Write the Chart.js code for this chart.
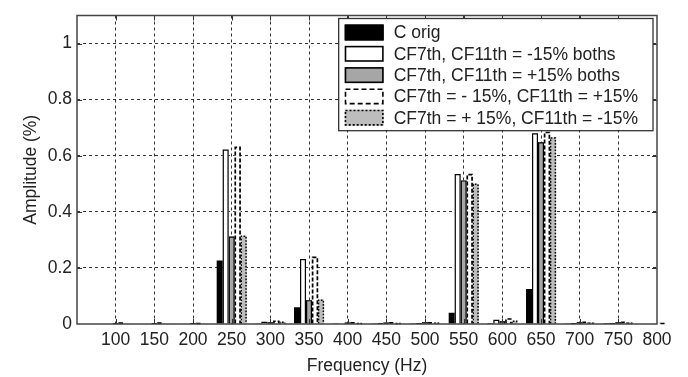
<!DOCTYPE html>
<html>
<head>
<meta charset="utf-8">
<script src="https://cdn.jsdelivr.net/npm/chart.js@4/dist/chart.umd.min.js"></script>
<style>
  html, body { margin: 0; padding: 0; background: #fff; }
  #wrap { width: 688px; height: 377px; position: relative; }
</style>
</head>
<body>
<div id="wrap"><canvas id="c" width="688" height="377"></canvas></div>
<script>
// ---- data ----
const freqs = [100, 150, 200, 250, 300, 350, 400, 450, 500, 550, 600, 650, 700, 750, 800];
const seriesLabels = [
  'C orig',
  'CF7th, CF11th = -15% boths',
  'CF7th, CF11th = +15% boths',
  'CF7th = - 15%, CF11th = +15%',
  'CF7th = + 15%, CF11th = -15%'
];
const cOrig     = [0.002, 0.002, 0.002, 0.226, 0.003, 0.060, 0.003, 0.003, 0.003, 0.040, 0.004, 0.125, 0.003, 0.004, 0.002];
const bothMinus = [0.003, 0.003, 0.003, 0.622, 0.008, 0.232, 0.003, 0.004, 0.004, 0.535, 0.015, 0.680, 0.004, 0.004, 0.003];
const bothPlus  = [0.004, 0.004, 0.004, 0.312, 0.006, 0.085, 0.005, 0.005, 0.006, 0.512, 0.010, 0.648, 0.006, 0.006, 0.003];
const m7p11     = [0.005, 0.005, 0.004, 0.632, 0.012, 0.240, 0.006, 0.006, 0.006, 0.535, 0.020, 0.685, 0.008, 0.008, 0.004];
const p7m11     = [0.003, 0.003, 0.003, 0.315, 0.008, 0.087, 0.004, 0.004, 0.005, 0.500, 0.012, 0.665, 0.005, 0.005, 0.003];
const yTickValues = [0, 0.2, 0.4, 0.6, 0.8, 1];
const xTitle = 'Frequency (Hz)';
const yTitle = 'Amplitude (%)';

const FONT = 'Liberation Sans, Arial, Helvetica, sans-serif';
const TXT = '#222';

const toPts = arr => freqs.map((f, i) => ({ x: f, y: arr[i] }));

const styles = [
  { backgroundColor: '#000000', dash: null, lw: 0 },
  { backgroundColor: '#ffffff', dash: [], lw: 1.2 },
  { backgroundColor: '#a6a6a6', dash: [], lw: 1.2 },
  { backgroundColor: '#ffffff', dash: [4, 2], lw: 1.7 },
  { backgroundColor: '#bdbdbd', dash: [1.6, 1.6], lw: 1.5 }
];
const seriesData = [cOrig, bothMinus, bothPlus, m7p11, p7m11];

const datasets = seriesData.map((arr, i) => ({
  label: seriesLabels[i],
  data: toPts(arr),
  backgroundColor: styles[i].backgroundColor,
  borderColor: '#000',
  borderWidth: 0,
  categoryPercentage: 0.775,
  barPercentage: 1.0,
  dashStyle: styles[i].dash,
  outlineWidth: styles[i].lw
}));

// outline bars (solid / dashed / dotted) using the element geometry from Chart.js
const barOutline = {
  id: 'barOutline',
  afterDatasetDraw(chart, args) {
    const ds = chart.data.datasets[args.index];
    if (!ds.dashStyle) return;
    const ctx = chart.ctx;
    ctx.save();
    ctx.strokeStyle = '#000';
    ctx.lineWidth = ds.outlineWidth;
    ctx.setLineDash(ds.dashStyle);
    args.meta.data.forEach(el => {
      const p = el.getProps(['x', 'y', 'base', 'width'], true);
      const l = p.x - p.width / 2, r = p.x + p.width / 2;
      const top = Math.min(p.y, p.base), bot = Math.max(p.y, p.base);
      if (bot - top < 0.5) return;
      ctx.beginPath();
      ctx.moveTo(l + 0.6, bot);
      ctx.lineTo(l + 0.6, top + 0.6);
      ctx.lineTo(r - 0.6, top + 0.6);
      ctx.lineTo(r - 0.6, bot);
      ctx.stroke();
    });
    ctx.restore();
  }
};

// box, inward ticks and legend (MATLAB style)
const frame = {
  id: 'frame',
  afterDatasetsDraw(chart) {
    const { ctx, chartArea: a, scales: { x, y } } = chart;
    ctx.save();
    ctx.setLineDash([]);
    ctx.strokeStyle = '#333';
    ctx.lineWidth = 1;
    const tl = 5;
    x.ticks.forEach(t => {
      const px = Math.round(x.getPixelForValue(t.value)) + 0.5;
      if (px <= a.left + 1 || px >= a.right - 1) return;
      ctx.beginPath();
      ctx.moveTo(px, a.bottom); ctx.lineTo(px, a.bottom - tl);
      ctx.moveTo(px, a.top); ctx.lineTo(px, a.top + tl);
      ctx.stroke();
    });
    y.ticks.forEach(t => {
      const py = Math.round(y.getPixelForValue(t.value)) + 0.5;
      if (py >= a.bottom - 1 || py <= a.top + 1) return;
      ctx.beginPath();
      ctx.moveTo(a.left, py); ctx.lineTo(a.left + tl, py);
      ctx.moveTo(a.right, py); ctx.lineTo(a.right - tl, py);
      ctx.stroke();
    });

    // legend
    const fs = 17.5;
    ctx.font = fs + 'px ' + FONT;
    const dsets = chart.data.datasets;
    let maxW = 0;
    dsets.forEach(d => { maxW = Math.max(maxW, ctx.measureText(d.label).width); });
    const rowH = 21.3;
    const lw = 55 + maxW + 15;
    const lh = 14 + rowH * (dsets.length - 1) + 13;
    const lr = a.right - 4;
    const lt = a.top + 3;
    const ll = lr - lw;
    ctx.fillStyle = '#fff';
    ctx.fillRect(ll, lt, lw, lh);
    ctx.strokeStyle = '#333';
    ctx.lineWidth = 1.3;
    ctx.strokeRect(ll, lt, lw, lh);
    ctx.textBaseline = 'middle';
    ctx.textAlign = 'left';
    dsets.forEach((d, i) => {
      const cy = lt + 14 + i * rowH;
      const sx = ll + 6, sw = 39, sh = 16;
      ctx.fillStyle = d.backgroundColor;
      ctx.fillRect(sx, cy - sh / 2, sw, sh);
      ctx.save();
      ctx.strokeStyle = '#000';
      ctx.lineWidth = 1.6;
      let dash = d.dashStyle || [];
      if (i === 3) dash = [5, 3];
      if (i === 4) dash = [2, 2];
      ctx.setLineDash(dash);
      ctx.strokeRect(sx + 0.8, cy - sh / 2 + 0.8, sw - 1.6, sh - 1.6);
      ctx.restore();
      ctx.fillStyle = TXT;
      ctx.fillText(d.label, ll + 55, cy + 1);
    });

    // box
    ctx.strokeStyle = '#444';
    ctx.lineWidth = 1.5;
    ctx.strokeRect(a.left, a.top, a.right - a.left, a.bottom - a.top);
    ctx.restore();
  }
};

new Chart(document.getElementById('c'), {
  type: 'bar',
  data: { datasets },
  options: {
    responsive: false,
    animation: false,
    layout: { padding: { left: 0, right: 31, top: 7, bottom: 0 } },
    plugins: { legend: { display: false }, tooltip: { enabled: false } },
    scales: {
      x: {
        type: 'linear',
        min: 50, max: 800,
        offset: false,
        grid: {
          offset: false,
          drawTicks: false,
          color: c => (c.tick && (c.tick.value === 50 || c.tick.value === 800)) ? 'rgba(0,0,0,0)' : '#333',
          lineWidth: 1
        },
        border: { display: false, dash: [3, 3] },
        ticks: {
          stepSize: 50,
          autoSkip: false,
          maxRotation: 0,
          padding: 6,
          color: TXT,
          font: { family: FONT, size: 17.5 },
          callback: v => (freqs.includes(v) ? String(v) : '')
        },
        title: { display: true, text: xTitle, color: TXT, font: { family: FONT, size: 17.5 }, padding: { top: 0, bottom: 0 } },
        afterFit: s => { s.height = 377 - 324; }
      },
      y: {
        min: 0, max: 1.1,
        grid: {
          drawTicks: false,
          color: c => (c.tick && (c.tick.value === 0 || c.tick.value > 1.05)) ? 'rgba(0,0,0,0)' : '#333',
          lineWidth: 1
        },
        border: { display: false, dash: [3, 3] },
        ticks: {
          stepSize: 0.2,
          includeBounds: false,
          padding: 5,
          color: TXT,
          font: { family: FONT, size: 17.5 },
          callback: v => (yTickValues.some(t => Math.abs(t - v) < 1e-9) ? String(+v.toFixed(1)) : '')
        },
        title: { display: true, text: yTitle, color: TXT, font: { family: FONT, size: 17.5 }, padding: { top: 21, bottom: 0 } },
        afterFit: s => { s.width = 77; }
      }
    }
  },
  plugins: [barOutline, frame]
});
</script>
</body>
</html>
